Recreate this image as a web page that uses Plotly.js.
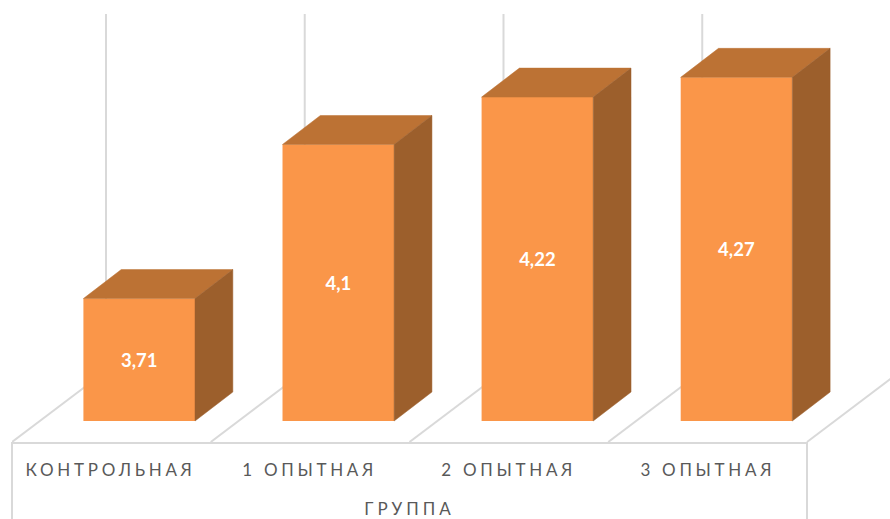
<!DOCTYPE html>
<html>
<head>
<meta charset="utf-8">
<script src="https://cdn.plot.ly/plotly-3.0.1.min.js"></script>
<style>
html,body{margin:0;padding:0;background:#fff;overflow:hidden}
.xtick text{letter-spacing:3.7px}
.xtitle{letter-spacing:4px}
</style>
</head>
<body>
<div id="chart" style="width:890px;height:519px"></div>
<script>
var categories = ['КОНТРОЛЬНАЯ', '1 ОПЫТНАЯ', '2 ОПЫТНАЯ', '3 ОПЫТНАЯ'];
var values = [3.71, 4.1, 4.22, 4.27];
var axisTitle = 'ГРУППА';
var yBase = 3.4;
var yMin = 3.3468, yMax = 4.4658, yWallTop = 4.4304, yFrameBottom = 3.1519;
var xMin = -0.6389, xMax = 3.3541, xFull0 = -0.6992, xFull1 = 3.7710;
var barWidth = 0.5605, depthX = 0.19, depthY = 0.0734;
var floorDepthX = 0.4721, floorDepthY = 0.1798;
var labelShift = -0.144;
var frontColor = '#FA9649', topColor = '#BC7234', sideColor = '#9C5F2C', gridColor = '#D9D9D9', textColor = '#595959';
var fontFamily = 'Lato, "Open Sans", sans-serif';
var idx = categories.map(function(_, i){ return i; });

var traces = [{
  type: 'bar', x: idx, y: values.map(function(v){ return v - yBase; }), base: yBase,
  width: barWidth, marker: {color: frontColor, line: {width: 0}},
  text: values.map(function(v){ return String(v).replace('.', ','); }),
  textposition: 'inside', insidetextanchor: 'middle', textangle: 0,
  textfont: {family: fontFamily, size: 18.5, color: '#FFFFFF', weight: 700},
  hoverinfo: 'skip', showlegend: false
}];

function poly(xs, ys, color){
  traces.push({type: 'scatter', mode: 'lines', xaxis: 'x2', yaxis: 'y2', x: xs, y: ys, fill: 'toself', fillcolor: color,
    line: {width: 0.5, color: color}, hoverinfo: 'skip', showlegend: false});
}
values.forEach(function(v, i){
  var l = i - barWidth / 2, r = i + barWidth / 2;
  poly([l, r, r + depthX, l + depthX, l], [v, v, v + depthY, v + depthY, v], topColor);
  poly([r, r + depthX, r + depthX, r, r], [yBase, yBase + depthY, v + depthY, v, yBase], sideColor);
});

function frameLine(xs, ys){
  traces.push({type: 'scatter', mode: 'lines', xaxis: 'x2', yaxis: 'y2', x: xs, y: ys, line: {width: 2, color: gridColor},
    hoverinfo: 'skip', showlegend: false});
}
frameLine([xMin, xMin], [yMin, yFrameBottom]);
frameLine([xMax, xMax], [yMin, yFrameBottom]);
frameLine([xMax, xMax + floorDepthX], [yMin, yMin + floorDepthY]);

var cellWidth = (xMax - xMin) / categories.length;
var shapes = [];
idx.forEach(function(i){
  var fx = xMin + i * cellWidth;
  shapes.push({type: 'line', layer: 'below', xref: 'x', yref: 'y', x0: fx, x1: fx + floorDepthX,
    y0: yMin, y1: yMin + floorDepthY, line: {color: gridColor, width: 2}});
  shapes.push({type: 'line', layer: 'below', xref: 'x', yref: 'y', x0: fx + floorDepthX, x1: fx + floorDepthX,
    y0: yMin + floorDepthY, y1: yWallTop, line: {color: gridColor, width: 2}});
});

var layout = {
  width: 890, height: 519,
  margin: {l: 0, r: 0, t: 0, b: 0},
  paper_bgcolor: '#FFFFFF', plot_bgcolor: 'rgba(0,0,0,0)',
  showlegend: false, shapes: shapes,
  xaxis: {
    domain: [12 / 890, 807 / 890], anchor: 'y',
    range: [xMin, xMax], tickmode: 'array',
    tickvals: idx.map(function(i){ return i + labelShift; }), ticktext: categories,
    showgrid: false, zeroline: false, showline: true, linecolor: gridColor, linewidth: 2,
    ticks: 'outside', ticklen: 12, tickcolor: 'rgba(0,0,0,0)',
    tickfont: {family: fontFamily, size: 17, color: textColor},
    title: {text: axisTitle, standoff: 29, font: {family: fontFamily, size: 17, color: textColor}}
  },
  yaxis: {domain: [77 / 519, 1], anchor: 'x', range: [yMin, yMax], showgrid: false, zeroline: false, showticklabels: false, ticks: '', showline: false},
  xaxis2: {domain: [0, 1], anchor: 'y2', range: [xFull0, xFull1], visible: false},
  yaxis2: {domain: [0, 1], anchor: 'x2', range: [yFrameBottom, yMax], visible: false}
};
Plotly.newPlot('chart', traces, layout, {displayModeBar: false, staticPlot: true});
</script>
</body>
</html>
